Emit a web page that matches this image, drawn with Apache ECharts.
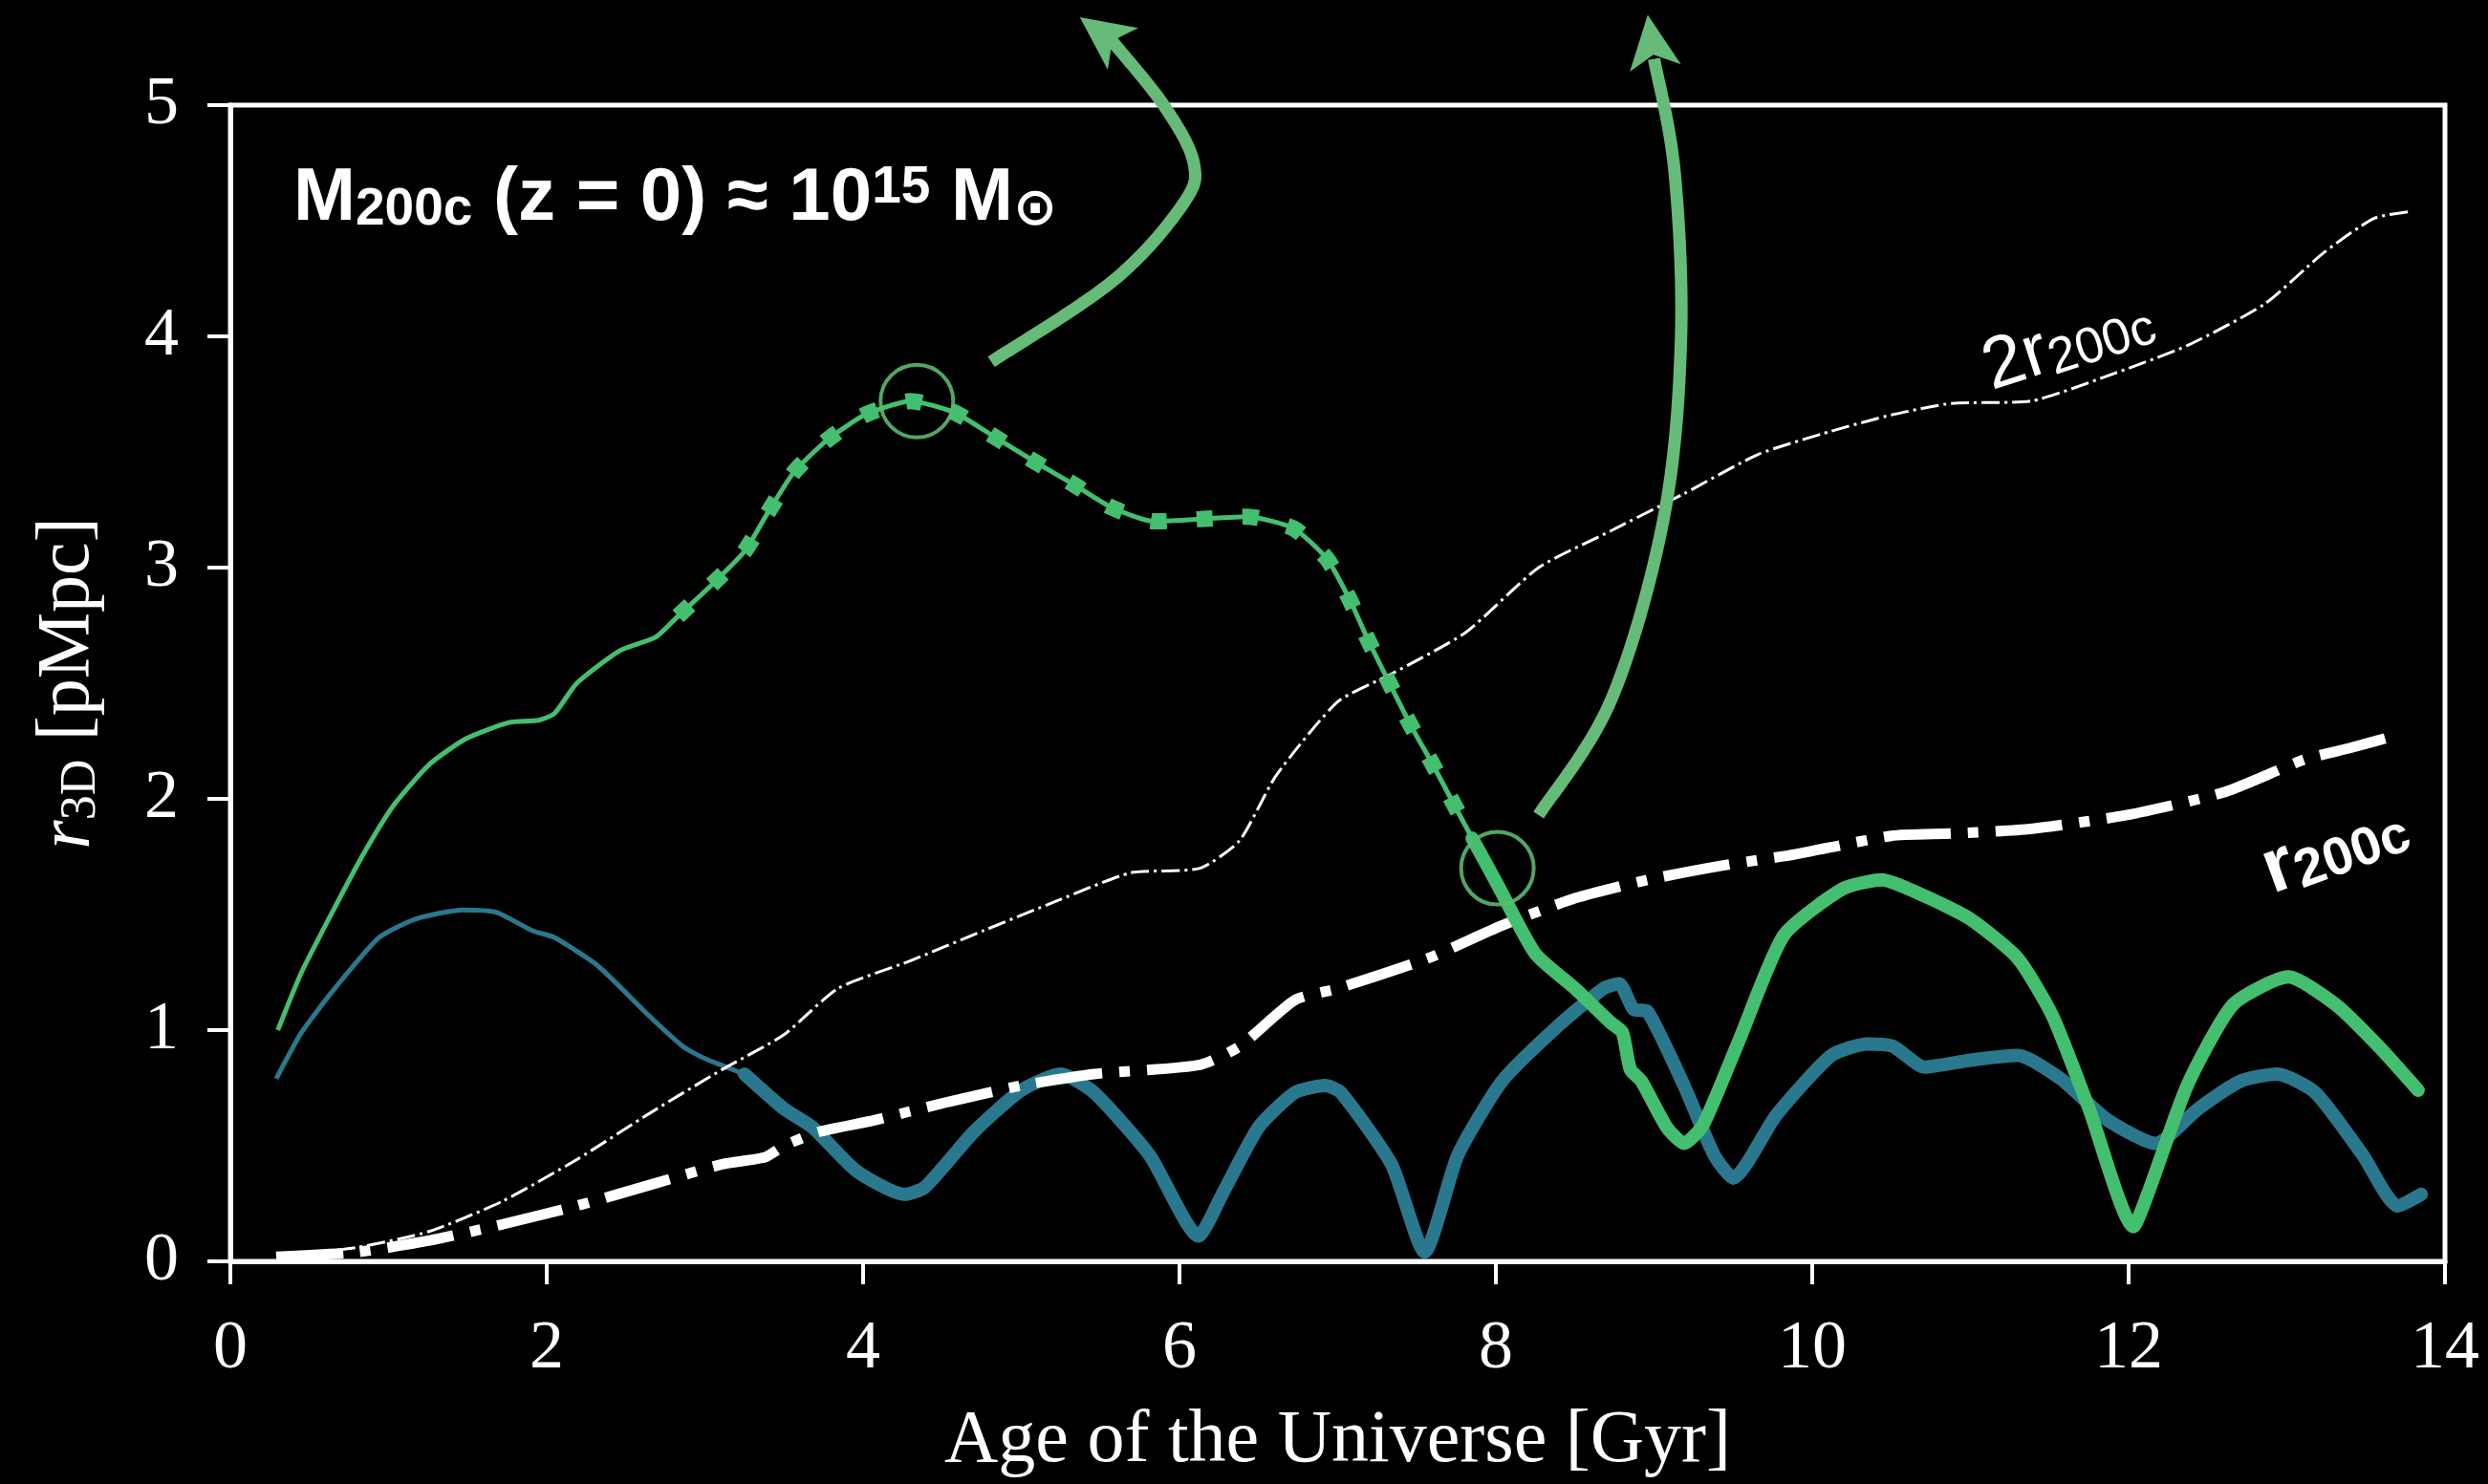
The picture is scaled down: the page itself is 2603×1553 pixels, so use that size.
<!DOCTYPE html>
<html>
<head>
<meta charset="utf-8">
<script src="https://cdn.jsdelivr.net/npm/echarts@6/dist/echarts.min.js"></script>
<style>
  html, body { margin: 0; padding: 0; background: #000; }
  #chart { width: 2603px; height: 1553px; }
</style>
</head>
<body>
<div id="chart"></div>
<script>
// green track (upper curve): age [Gyr] and r3D [pMpc]
const greenAge = [0.30, 0.45, 0.66, 0.84, 1.03, 1.26, 1.49, 1.76, 1.95, 2.05, 2.19, 2.46, 2.69, 2.83,
  3.05, 3.25, 3.40, 3.56, 3.77, 4.01, 4.30, 4.58, 4.82, 5.08, 5.33, 5.57, 5.84, 6.13, 6.43, 6.72,
  6.93, 7.07, 7.19, 7.32, 7.46, 7.60, 7.74, 7.85, 8.01, 8.25, 8.50, 8.73, 8.80, 8.85, 8.92, 9.08,
  9.19, 9.31, 9.54, 9.82, 10.19, 10.44, 10.71, 11.00, 11.30, 11.52, 11.75, 12.03, 12.12, 12.37,
  12.66, 13.01, 13.31, 13.58, 13.83];
const greenR = [1.00, 1.25, 1.53, 1.76, 1.97, 2.15, 2.26, 2.33, 2.34, 2.37, 2.50, 2.64, 2.70, 2.79,
  2.93, 3.07, 3.24, 3.41, 3.55, 3.66, 3.72, 3.67, 3.57, 3.46, 3.36, 3.26, 3.20, 3.21, 3.22, 3.17,
  3.04, 2.87, 2.69, 2.51, 2.32, 2.15, 1.97, 1.83, 1.63, 1.33, 1.18, 1.03, 0.99, 0.83, 0.78, 0.58,
  0.51, 0.59, 0.96, 1.41, 1.61, 1.65, 1.58, 1.48, 1.31, 1.06, 0.66, 0.15, 0.29, 0.76,
  1.11, 1.23, 1.11, 0.93, 0.74];

// teal track (lower curve)
const tealAge = [0.29, 0.45, 0.66, 0.94, 1.17, 1.47, 1.68, 1.91, 2.05, 2.32, 2.65, 2.86, 2.99, 3.25,
  3.50, 3.68, 3.96, 4.26, 4.39, 4.70, 5.00, 5.25, 5.46, 5.81, 6.12, 6.27, 6.50, 6.73, 6.92, 7.02,
  7.34, 7.55, 7.76, 8.04, 8.38, 8.68, 8.78, 8.87, 8.96, 9.19, 9.38, 9.50, 9.77, 10.12, 10.35,
  10.51, 10.71, 11.00, 11.30, 11.57, 11.87, 12.17, 12.44, 12.71, 12.94, 13.18, 13.48, 13.70, 13.85];
const tealR = [0.79, 0.99, 1.18, 1.40, 1.48, 1.52, 1.51, 1.43, 1.40, 1.28, 1.06, 0.93, 0.88, 0.81,
  0.66, 0.58, 0.39, 0.29, 0.32, 0.56, 0.74, 0.81, 0.73, 0.46, 0.11, 0.29, 0.58, 0.73, 0.76, 0.73,
  0.42, 0.04, 0.46, 0.78, 1.01, 1.18, 1.20, 1.09, 1.08, 0.76, 0.46, 0.36, 0.63, 0.89, 0.94,
  0.93, 0.84, 0.87, 0.89, 0.79, 0.61, 0.51, 0.66, 0.78, 0.81, 0.73, 0.46, 0.24, 0.29];

// 2 r200c
const twoR200Age = [0.29, 0.80, 1.26, 1.72, 2.19, 2.65, 3.11, 3.50, 3.84, 4.30, 4.76, 5.23, 5.69,
  6.13, 6.38, 6.61, 7.00, 7.34, 7.81, 8.27, 8.73, 9.19, 9.66, 10.12, 10.50, 10.88, 11.38, 11.87,
  12.37, 12.86, 13.23, 13.55, 13.78];
const twoR200 = [0.02, 0.06, 0.13, 0.26, 0.44, 0.64, 0.83, 0.98, 1.18, 1.30, 1.43, 1.56, 1.68,
  1.70, 1.82, 2.10, 2.42, 2.54, 2.72, 3.00, 3.16, 3.32, 3.49, 3.59, 3.66, 3.71, 3.72, 3.83,
  3.96, 4.14, 4.36, 4.51, 4.54];

// r200c
const r200Age = [0.29, 0.80, 1.26, 1.72, 2.19, 2.65, 3.11, 3.38, 3.50, 3.72, 4.07, 4.54, 5.00, 5.46,
  6.13, 6.38, 6.73, 7.00, 7.57, 8.03, 8.50, 8.96, 9.42, 9.89, 10.50, 10.88, 11.38, 11.99, 12.61,
  13.11, 13.40, 13.72];
const r200 = [0.02, 0.04, 0.09, 0.16, 0.24, 0.33, 0.42, 0.45, 0.50, 0.56, 0.61, 0.69, 0.76, 0.81,
  0.85, 0.93, 1.13, 1.18, 1.31, 1.45, 1.57, 1.65, 1.71, 1.76, 1.84, 1.85, 1.87, 1.93, 2.03,
  2.17, 2.22, 2.28];

// marked points (circles)
const circleAge = [4.34, 8.01];
const circleR = [3.72, 1.70];

// annotation arrows in data space: shaft guide points from tail to the notch of the head, then the tip
const arrow1Age = [4.81, 5.58, 6.02, 6.09, 5.90, 5.57];
const arrow1R = [3.89, 4.24, 4.57, 4.75, 5.00, 5.28];
const arrow2Age = [8.27, 8.73, 9.06, 9.17, 9.13, 9.00];
const arrow2R = [1.93, 2.43, 3.21, 3.98, 4.71, 5.20];
const tipAge = [5.37, 8.96];
const tipR = [5.38, 5.39];

const GREEN = '#44bf70';
const TEAL = '#2a788e';
const ARROW = '#66bb78';
const SERIF = 'Liberation Serif';
const SANS = "'Liberation Sans', 'DejaVu Sans'";

const zip = (xs, ys) => xs.map((x, i) => [x, ys[i]]);
const seg = (xs, ys, lo, hi) => zip(xs, ys).filter(p => p[0] >= lo && p[0] <= hi);

const lineBase = { type: 'line', symbol: 'none', smooth: 0.2, silent: true, animation: false };

const chart = echarts.init(document.getElementById('chart'));

const labels = [
  {
    id: 'mass', type: 'text', x: 307, y: 169, silent: true,
    style: {
      text: '{b|M}{s|200c}{b| (z = 0) ≈ 10}{p|15}{b| M}{s|⊙}',
      fill: '#fff',
      rich: {
        b: { fontFamily: SANS, fontWeight: 'bold', fontSize: 78, lineHeight: 78, verticalAlign: 'top', fill: '#fff' },
        s: { fontFamily: SANS, fontWeight: 'bold', fontSize: 55, lineHeight: 55, verticalAlign: 'bottom', fill: '#fff' },
        p: { fontFamily: SANS, fontWeight: 'bold', fontSize: 55, lineHeight: 40, verticalAlign: 'top', fill: '#fff' }
      }
    }
  },
  {
    id: 'twoR', type: 'text', x: 2164, y: 360, rotation: 18 * Math.PI / 180, silent: true,
    style: {
      text: '{n|2r}{s|200c}', align: 'center', verticalAlign: 'middle', fill: '#fff',
      rich: {
        n: { fontFamily: SANS, fontSize: 76, lineHeight: 76, verticalAlign: 'top', fill: '#fff' },
        s: { fontFamily: SANS, fontSize: 53, lineHeight: 53, verticalAlign: 'bottom', fill: '#fff' }
      }
    }
  },
  {
    id: 'oneR', type: 'text', x: 2443, y: 888, rotation: 20 * Math.PI / 180, silent: true,
    style: {
      text: '{n|r}{s|200c}', align: 'center', verticalAlign: 'middle', fill: '#fff',
      rich: {
        n: { fontFamily: SANS, fontWeight: 'bold', fontSize: 80, lineHeight: 80, verticalAlign: 'top', fill: '#fff' },
        s: { fontFamily: SANS, fontWeight: 'bold', fontSize: 56, lineHeight: 56, verticalAlign: 'bottom', fill: '#fff' }
      }
    }
  }
];

const option = {
  backgroundColor: '#000',
  animation: false,
  grid: {
    left: 241, right: 45, top: 110, bottom: 225,
    show: true, borderColor: '#fff', borderWidth: 5, backgroundColor: 'transparent'
  },
  xAxis: {
    type: 'value', min: 0, max: 14, interval: 2,
    name: 'Age of the Universe [Gyr]',
    nameLocation: 'middle', nameGap: 150,
    nameTextStyle: { color: '#fff', fontFamily: SERIF, fontSize: 78 },
    axisLine: { show: true, lineStyle: { color: '#fff', width: 5 } },
    axisTick: { show: true, inside: false, length: 24, lineStyle: { color: '#fff', width: 4 } },
    axisLabel: { color: '#fff', fontFamily: SERIF, fontSize: 72, margin: 56 },
    splitLine: { show: false }
  },
  yAxis: {
    type: 'value', min: 0, max: 5, interval: 1,
    name: '{i|r}{s|3D}{n| [pMpc]}',
    nameLocation: 'middle', nameGap: 130, nameRotate: 90,
    nameTextStyle: {
      color: '#fff', fontFamily: SERIF, fontSize: 78,
      rich: {
        i: { fontFamily: SERIF, fontStyle: 'italic', fontSize: 78, lineHeight: 78, verticalAlign: 'top', color: '#fff' },
        s: { fontFamily: SERIF, fontSize: 52, lineHeight: 40, verticalAlign: 'bottom', color: '#fff' },
        n: { fontFamily: SERIF, fontSize: 78, lineHeight: 78, verticalAlign: 'top', color: '#fff' }
      }
    },
    axisLine: { show: true, lineStyle: { color: '#fff', width: 5 } },
    axisTick: { show: true, inside: false, length: 24, lineStyle: { color: '#fff', width: 4 } },
    axisLabel: { color: '#fff', fontFamily: SERIF, fontSize: 72, margin: 54 },
    splitLine: { show: false }
  },
  series: [
    Object.assign({}, lineBase, {
      data: seg(tealAge, tealR, 0, 3.25),
      lineStyle: { color: TEAL, width: 5 }, z: 2
    }),
    Object.assign({}, lineBase, {
      data: seg(tealAge, tealR, 3.25, 99),
      lineStyle: { color: TEAL, width: 14, cap: 'round', join: 'round' }, z: 2
    }),
    Object.assign({}, lineBase, {
      data: zip(twoR200Age, twoR200),
      lineStyle: { color: '#fff', width: 3, type: [19, 5, 3, 5], cap: 'butt' }, z: 3
    }),
    Object.assign({}, lineBase, {
      data: zip(r200Age, r200),
      lineStyle: { color: '#fff', width: 11, type: [70, 18, 11, 18], cap: 'butt' }, z: 3
    }),
    Object.assign({}, lineBase, {
      data: seg(greenAge, greenR, 0, 7.85),
      lineStyle: { color: GREEN, width: 5 }, z: 4
    }),
    Object.assign({}, lineBase, {
      data: seg(greenAge, greenR, 2.83, 7.85),
      lineStyle: { color: GREEN, width: 17, type: [17, 31], cap: 'butt' }, z: 4
    }),
    Object.assign({}, lineBase, {
      data: seg(greenAge, greenR, 7.85, 99),
      lineStyle: { color: GREEN, width: 14, cap: 'round', join: 'round' }, z: 4
    }),
    {
      type: 'scatter', silent: true, animation: false, z: 5,
      data: zip(circleAge, circleR),
      symbol: 'circle', symbolSize: 76,
      itemStyle: { color: 'rgba(0,0,0,0)', borderColor: '#5cb86f', borderWidth: 4, opacity: 0.9 }
    }
  ],
  graphic: labels
};

chart.setOption(option);

// Catmull-Rom path through the guide points, for a smooth arrow shaft
function spline(pts) {
  const out = [];
  for (let i = 0; i < pts.length - 1; i++) {
    const p0 = pts[Math.max(i - 1, 0)], p1 = pts[i], p2 = pts[i + 1], p3 = pts[Math.min(i + 2, pts.length - 1)];
    for (let k = 0; k < 24; k++) {
      const t = k / 24, t2 = t * t, t3 = t2 * t;
      out.push([0, 1].map(j => 0.5 * (2 * p1[j] + (p2[j] - p0[j]) * t +
        (2 * p0[j] - 5 * p1[j] + 4 * p2[j] - p3[j]) * t2 +
        (3 * p1[j] - p0[j] - 3 * p2[j] + p3[j]) * t3)));
    }
  }
  out.push(pts[pts.length - 1]);
  return out;
}

// curved annotation arrows, placed through the axes
function arrow(id, ages, rs, tipX, tipY) {
  const pts = ages.map((a, i) => chart.convertToPixel({ gridIndex: 0 }, [a, rs[i]]));
  const tip = chart.convertToPixel({ gridIndex: 0 }, [tipX, tipY]);
  const end = pts[pts.length - 1];
  let dx = tip[0] - end[0], dy = tip[1] - end[1];
  const len = Math.hypot(dx, dy);
  dx /= len; dy /= len;
  const px = -dy, py = dx;
  const head = [
    tip,
    [tip[0] - dx * 56 + px * 27, tip[1] - dy * 56 + py * 27],
    [tip[0] - dx * 42, tip[1] - dy * 42],
    [tip[0] - dx * 56 - px * 27, tip[1] - dy * 56 - py * 27]
  ];
  return [
    {
      id: id + 'shaft', type: 'polyline', silent: true, z: 60,
      shape: { points: spline(pts) },
      style: { stroke: ARROW, lineWidth: 13, fill: null, lineCap: 'butt', lineJoin: 'round' }
    },
    {
      id: id + 'head', type: 'polygon', silent: true, z: 60,
      shape: { points: head },
      style: { fill: ARROW, stroke: null }
    }
  ];
}

chart.setOption({
  graphic: labels.concat(
    arrow('a1', arrow1Age, arrow1R, tipAge[0], tipR[0]),
    arrow('a2', arrow2Age, arrow2R, tipAge[1], tipR[1])
  )
});

window.addEventListener('resize', () => chart.resize());
</script>
</body>
</html>
